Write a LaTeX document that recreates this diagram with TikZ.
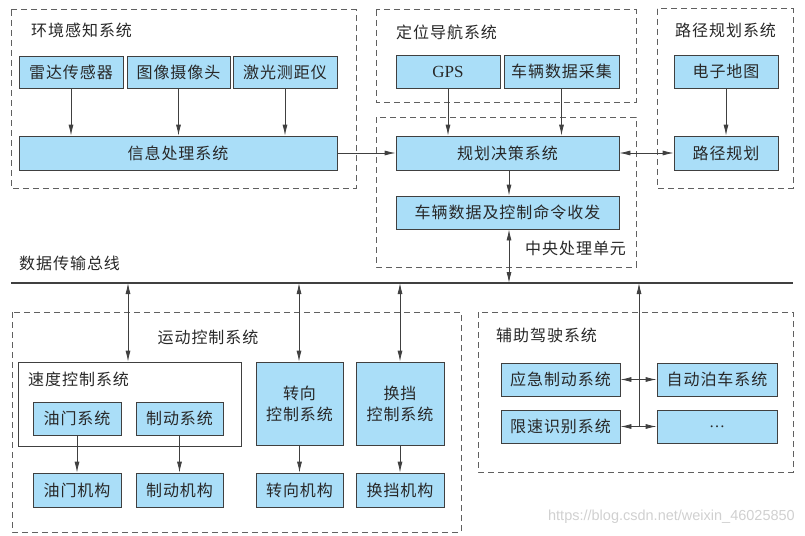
\documentclass[tikz,border=0pt]{standalone}
\usepackage{fontspec}
\setmainfont{Liberation Serif}
\newfontfamily\cjk[LetterSpace=6]{Noto Sans CJK SC}
\newfontfamily\wmfont{Liberation Sans}
\usetikzlibrary{arrows.meta}
\definecolor{boxfill}{RGB}{170,222,248}
\definecolor{boxline}{RGB}{64,64,64}
\definecolor{dashline}{RGB}{96,96,96}
\definecolor{txt}{RGB}{40,40,40}
\begin{document}
\begin{tikzpicture}[x=1pt,y=-1pt,
  font=\cjk\fontsize{16}{21}\selectfont,
  bluebox/.style={draw=boxline,line width=0.8pt,fill=boxfill,inner sep=0pt,align=center,text=txt},
  whitebox/.style={draw=boxline,line width=0.8pt,fill=white,inner sep=0pt},
  groupbox/.style={draw=dashline,line width=1pt,dash pattern=on 6pt off 4pt},
  lbl/.style={inner sep=0pt,text=txt},
  arr/.style={draw=boxline,line width=0.8pt,-{Latex[length=11pt,width=5pt]}},
  darr/.style={draw=boxline,line width=0.8pt,{Latex[length=11pt,width=5pt]}-{Latex[length=11pt,width=5pt]}},
  bus/.style={draw=boxline,line width=1.5pt}
]
\useasboundingbox (0,0) rectangle (805,535);
% group boxes
\draw[groupbox] (11,10) rectangle (356,188);
\draw[groupbox] (376,10) rectangle (636,102);
\draw[groupbox] (376,117) rectangle (636,267);
\draw[groupbox] (657,9) rectangle (793,188);
\draw[groupbox] (12,312) rectangle (461,532);
\draw[groupbox] (478,312) rectangle (793,472);
% group labels
\node[lbl,anchor=west] (envlbl) at (31,30) {环境感知系统};
\node[lbl,anchor=west] (navlbl) at (396,32) {定位导航系统};
\node[lbl,anchor=west] (routelbl) at (675,30) {路径规划系统};
\node[lbl,anchor=west] (cpulbl) at (525,248) {中央处理单元};
\node[lbl,anchor=west] (buslbl) at (19,263) {数据传输总线};
\node[lbl] (motionlbl) at (208,337) {运动控制系统};
\node[lbl,anchor=west] (assistlbl) at (496,335) {辅助驾驶系统};
% top boxes
\node[bluebox,minimum width=104pt,minimum height=32pt] (radar) at (71,72) {雷达传感器};
\node[bluebox,minimum width=103pt,minimum height=32pt] (camera) at (178.5,72) {图像摄像头};
\node[bluebox,minimum width=104pt,minimum height=32pt] (laser) at (285,72) {激光测距仪};
\node[bluebox,minimum width=318pt,minimum height=34pt] (info) at (178,153) {信息处理系统};
\node[bluebox,minimum width=104pt,minimum height=33pt] (gps) at (448,71.5) {\rmfamily\fontsize{17}{20}\selectfont GPS};
\node[bluebox,minimum width=115pt,minimum height=33pt] (vdata) at (561.5,71.5) {车辆数据采集};
\node[bluebox,minimum width=223pt,minimum height=34pt] (plan) at (507.5,153) {规划决策系统};
\node[bluebox,minimum width=223pt,minimum height=33pt] (cmd) at (507.5,212.5) {车辆数据及控制命令收发};
\node[bluebox,minimum width=104pt,minimum height=33pt] (map) at (726,71.5) {电子地图};
\node[bluebox,minimum width=104pt,minimum height=34pt] (route) at (726,153) {路径规划};
% motion control
\node[whitebox,minimum width=223pt,minimum height=84pt] (speed) at (129.5,404) {};
\node[lbl,anchor=west] (speedlbl) at (28,379) {速度控制系统};
\node[bluebox,minimum width=88pt,minimum height=33pt] (throttle) at (77,418.5) {油门系统};
\node[bluebox,minimum width=87pt,minimum height=33pt] (brake) at (179.5,418.5) {制动系统};
\node[bluebox,minimum width=87pt,minimum height=83pt] (steer) at (299.5,403.5) {转向\\控制系统};
\node[bluebox,minimum width=88pt,minimum height=83pt] (gear) at (400,403.5) {换挡\\控制系统};
\node[bluebox,minimum width=88pt,minimum height=34pt] (throttleM) at (77,490) {油门机构};
\node[bluebox,minimum width=87pt,minimum height=34pt] (brakeM) at (179.5,490) {制动机构};
\node[bluebox,minimum width=87pt,minimum height=34pt] (steerM) at (299.5,490) {转向机构};
\node[bluebox,minimum width=88pt,minimum height=34pt] (gearM) at (400,490) {换挡机构};
% assist
\node[bluebox,minimum width=119pt,minimum height=33pt] (emerg) at (560.5,379.5) {应急制动系统};
\node[bluebox,minimum width=120pt,minimum height=33pt] (park) at (717,379.5) {自动泊车系统};
\node[bluebox,minimum width=119pt,minimum height=33pt] (limit) at (560.5,426.5) {限速识别系统};
\node[bluebox,minimum width=120pt,minimum height=33pt] (more) at (717,426.5) {\rmfamily …};
% bus
\coordinate (busL) at (11,283);
\coordinate (busR) at (793,283);
\draw[bus] (busL) -- (busR);
\coordinate (busCpu) at (509,283);
\coordinate (busSpeed) at (128,283);
\coordinate (busSteer) at (299,283);
\coordinate (busGear) at (400,283);
\coordinate (busAssist) at (639,283);
\coordinate (asLow) at (639,426.5);
\coordinate (asHigh) at (639,379.5);
% arrows top
\draw[arr] (radar.south) -- (radar.south |- info.north);
\draw[arr] (camera.south) -- (camera.south |- info.north);
\draw[arr] (laser.south) -- (laser.south |- info.north);
\draw[arr] (info.east) -- (plan.west);
\draw[arr] (gps.south) -- (gps.south |- plan.north);
\draw[arr] (vdata.south) -- (vdata.south |- plan.north);
\draw[arr] (busCpu |- plan.south) -- (busCpu |- cmd.north);
\draw[darr] (plan.east) -- (route.west);
\draw[arr] (map.south) -- (route.north);
\draw[darr] (busCpu |- cmd.south) -- (busCpu);
% bus to motion
\draw[darr] (busSpeed) -- (busSpeed |- speed.north);
\draw[darr] (busSteer) -- (busSteer |- steer.north);
\draw[darr] (busGear) -- (busGear |- gear.north);
\draw[arr] (throttle.south) -- (throttleM.north);
\draw[arr] (brake.south) -- (brakeM.north);
\draw[arr] (steer.south) -- (steerM.north);
\draw[arr] (gear.south) -- (gearM.north);
% assist
\draw[arr] (asLow) -- (busAssist);
\draw[arr] (asHigh) -- (emerg.east);
\draw[arr] (asHigh) -- (park.west);
\draw[arr] (asLow) -- (limit.east);
\draw[arr] (asLow) -- (more.west);
% watermark
\node[inner sep=0pt,anchor=east,text={rgb,255:red,208;green,208;blue,208},font=\wmfont\fontsize{14.5}{16}\selectfont] (wm) at (795,517) {https://blog.csdn.net/weixin\_46025850};
\end{tikzpicture}
\end{document}
